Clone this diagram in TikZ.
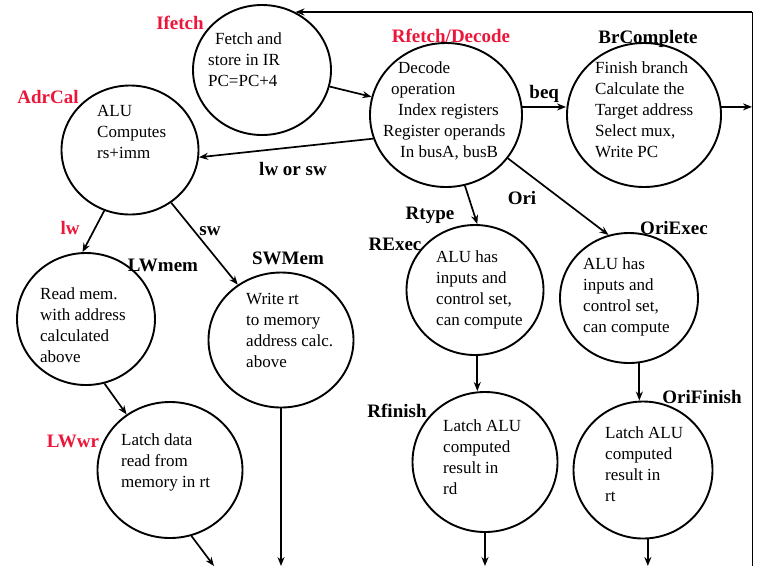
\documentclass[tikz,border=0pt]{standalone}
\usepackage{fontspec}
\setmainfont{Liberation Serif}
\usetikzlibrary{shapes.geometric,arrows.meta}
\definecolor{fsmred}{RGB}{235,22,58}
\begin{document}
\begin{tikzpicture}[x=1pt, y=-1pt,
    state/.style={ellipse, draw, line width=1.9pt, inner sep=0pt},
    wh/.style 2 args={minimum width=#1, minimum height=#2},
    body/.style={anchor=north west, inner sep=0pt, align=left,
      font=\fontsize{17}{21}\selectfont},
    tag/.style={anchor=base, inner sep=0pt,
      font=\fontsize{19}{22}\selectfont\bfseries},
    hot/.style={tag, text=fsmred}]
  \useasboundingbox (0,0) rectangle (757,566);
  \begin{scope}[every node/.style={state}]
    \node[wh={138pt}{130pt}] (ifetch) at (262,70) {};
    \node[wh={152pt}{144pt}] (rfetch) at (446,115) {};
    \node[wh={154pt}{144pt}] (brcomplete) at (644,115) {};
    \node[wh={137pt}{129pt}] (adrcal) at (130,150) {};
    \node[wh={138pt}{132pt}] (lwmem) at (86,319) {};
    \node[wh={145pt}{135pt}] (swmem) at (281,340) {};
    \node[wh={145pt}{136pt}] (lwwr) at (170,470) {};
    \node[wh={137pt}{130pt}] (rexec) at (475,290) {};
    \node[wh={138pt}{130pt}] (oriexec) at (629,298) {};
    \node[wh={145pt}{140pt}] (rfinish) at (485,462) {};
    \node[wh={139pt}{137pt}] (orifinish) at (643,470) {};
  \end{scope}
  \node[body] (ifetch-t) at (208,32) {\hspace*{7pt}Fetch and\\store in IR\\PC=PC+4};
  \node[body] (rfetch-t) at (383,61) {\hspace*{15pt}Decode\\\hspace*{8pt}operation\\
    \hspace*{15pt}Index registers\\Register operands\\\hspace*{17pt}In busA, busB};
  \node[body] (brcomplete-t) at (595,61) {Finish branch\\Calculate the\\Target address\\
    Select mux,\\Write PC};
  \node[body] (adrcal-t) at (97,105) {ALU\\Computes\\rs+imm};
  \node[body] (lwmem-t) at (40,287) {Read mem.\\with address\\calculated\\above};
  \node[body] (swmem-t) at (246,293) {Write rt\\to memory\\address calc.\\above};
  \node[body] (lwwr-t) at (121,433) {Latch data\\read from\\memory in rt};
  \node[body] (rexec-t) at (436,250) {ALU has\\inputs and\\control set,\\can compute};
  \node[body] (oriexec-t) at (583,257) {ALU has\\inputs and\\control set,\\can compute};
  \node[body] (rfinish-t) at (443,419) {Latch ALU\\computed\\result in\\rd};
  \node[body] (orifinish-t) at (605,426) {Latch ALU\\computed\\result in\\rt};
  \node[hot] (ifetch-l) at (180,29) {Ifetch};
  \node[hot] (rfetch-l) at (451,42) {Rfetch/Decode};
  \node[tag] (brcomplete-l) at (648,43) {BrComplete};
  \node[hot] (adrcal-l) at (48,103) {AdrCal};
  \node[tag] (lwmem-l) at (163,271) {LWmem};
  \node[tag] (swmem-l) at (288,264) {SWMem};
  \node[hot] (lwwr-l) at (73,447) {LWwr};
  \node[tag] (rexec-l) at (395,250) {RExec};
  \node[tag] (oriexec-l) at (674,234) {OriExec};
  \node[tag] (rfinish-l) at (397,417) {Rfinish};
  \node[tag] (orifinish-l) at (702,403) {OriFinish};
  \coordinate (corner) at (752,12);
  \coordinate (bottom) at (0,566);
  \coordinate (lwwr-out) at (214,566);
  \draw[line width=1pt] (corner) -- (corner |- bottom);
  \begin{scope}[->, >={Stealth[length=9pt, width=7pt]}, line width=1.7pt]
    \draw[line width=2pt] (corner) to (corner -| ifetch.60);
    \draw (ifetch) to (rfetch);
    \draw (rfetch.6) to node[tag, above=4pt] (beq) {beq} (rfetch.6 -| brcomplete.west);
    \draw (brcomplete.6) to (brcomplete.6 -| corner);
    \draw (rfetch.198) to (adrcal.354);
    \draw (adrcal.-113) to (lwmem.93);
    \draw (adrcal.-52) to (swmem.128);
    \draw (lwmem.-74) to (lwwr.128);
    \draw (lwwr.-72) to (lwwr-out);
    \draw (swmem.south) to (swmem.south |- bottom);
    \draw (rfetch.-75) to (rexec.88);
    \draw (rfetch.-35) to (oriexec.108);
    \draw (rexec.-88) to (rexec.-88 |- rfinish.north);
    \draw (oriexec.-81) to (oriexec.-81 |- orifinish.north);
    \draw (rfinish.south) to (rfinish.south |- bottom);
    \draw (orifinish.-86) to (orifinish.-86 |- bottom);
  \end{scope}
  \node[tag] (lworsw) at (293,175) {lw or sw};
  \node[hot] (lw) at (70,234) {lw};
  \node[tag] (sw) at (210,235) {sw};
  \node[tag] (rtype) at (430,219) {Rtype};
  \node[tag] (ori) at (522,204) {Ori};
\end{tikzpicture}
\end{document}
